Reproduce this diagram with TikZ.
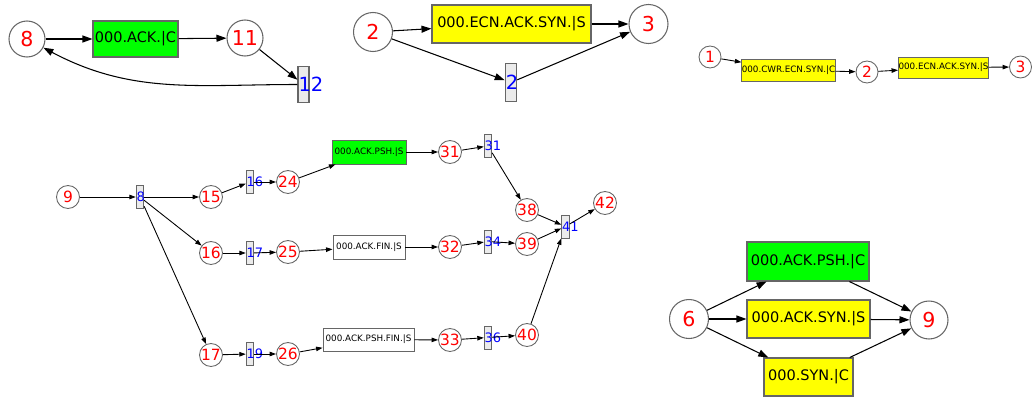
\documentclass[tikz,border=0pt]{standalone}
\usepackage{fontspec}
\setmainfont{DejaVu Sans}
\usetikzlibrary{arrows.meta, positioning}
\usepackage{xcolor}
\definecolor{pktGreen} {HTML}{00FF00}
\definecolor{pktYellow}{HTML}{FFFF00}
\definecolor{pktGray}  {HTML}{666666}
\definecolor{pktLight} {HTML}{EBEBEB}
\tikzset{
  bigst/.style  = {circle, draw=pktGray, line width=0.6pt, minimum size=0.72cm,
                   inner sep=0pt, text=red, font=\fontsize{11.7}{12}\selectfont},
  st/.style     = {circle, draw=pktGray, line width=0.5pt, minimum size=0.46cm,
                   inner sep=0pt, text=red, font=\fontsize{8.8}{9}\selectfont},
  bigpkt/.style = {rectangle, draw=pktGray, line width=0.6pt, inner sep=0pt,
                   font=\fontsize{8.25}{9}\selectfont},
  pkt/.style    = {rectangle, draw=pktGray, line width=0.5pt, inner sep=0pt,
                   font=\fontsize{5}{6}\selectfont},
  bigbar/.style = {rectangle, draw=pktGray, fill=pktLight, line width=0.6pt,
                   minimum width=0.22cm, minimum height=0.72cm, inner sep=0pt,
                   label={[anchor=west, inner sep=0.4pt, text=blue,
                           font=\fontsize{11.1}{12}\selectfont]west:#1}},
  bar/.style    = {rectangle, draw=pktGray, fill=pktLight, line width=0.5pt,
                   minimum width=0.15cm, minimum height=0.46cm, inner sep=0pt,
                   label={[anchor=west, inner sep=0.3pt, text=blue,
                           font=\fontsize{7.4}{8}\selectfont]west:#1}},
  bigarrow/.style = {-{Triangle[length=0.2cm, width=0.14cm]}, line width=0.6pt},
  arrow/.style    = {-{Triangle[length=0.13cm, width=0.09cm]}, line width=0.5pt},
}

\begin{document}
\begin{tikzpicture}[x=0.02cm, y=-0.02cm]
  \useasboundingbox (0,0) rectangle (1032,399);

  % ---- Top left: ACK loop ----
  \node[bigst] (tl8)  at (27,39)  {8};
  \node[bigpkt, fill=pktGreen, minimum width=1.70cm, minimum height=0.72cm]
        (tlack) at (135.5,39) {000.ACK.|C};
  \node[bigst] (tl11) at (245,38) {11};
  \node[bigbar=12] (tl12) at (303.5,84.5) {};

  \draw[bigarrow] (tl8) -- (tlack);
  \draw[bigarrow] (tlack) -- (tl11);
  \draw[bigarrow] (tl11) -- (tl12);
  \draw[bigarrow] (tl12.west) to[out=180, in=-28] (tl8);

  % ---- Top middle: ECN reply ----
  \node[bigst, minimum size=0.78cm] (tm2) at (373,32) {2};
  \node[bigpkt, fill=pktYellow, minimum width=3.18cm, minimum height=0.76cm]
        (tmecn) at (511.5,24) {000.ECN.ACK.SYN.|S};
  \node[bigst, minimum size=0.78cm] (tm3) at (648.5,24) {3};
  \node[bigbar=2, minimum width=0.23cm, minimum height=0.76cm] (tmb2) at (511,82.5) {};

  \draw[bigarrow] (tm2) -- (tmecn);
  \draw[bigarrow] (tmecn) -- (tm3);
  \draw[bigarrow] (tm2) -- (tmb2);
  \draw[bigarrow] (tmb2) -- (tm3);

  % ---- Top right: ECN handshake ----
  \node[st, minimum size=0.44cm] (tr1) at (710,57) {1};
  \node[pkt, fill=pktYellow, minimum width=1.82cm, minimum height=0.44cm]
        (trcwr) at (788.5,70) {000.CWR.ECN.SYN.|C};
  \node[st, minimum size=0.44cm] (tr2) at (867,72) {2};
  \node[pkt, fill=pktYellow, minimum width=1.78cm, minimum height=0.42cm]
        (trecn) at (943.5,67.5) {000.ECN.ACK.SYN.|S};
  \node[st, minimum size=0.44cm] (tr3) at (1020.5,67) {3};

  \draw[arrow] (tr1) -- (trcwr);
  \draw[arrow] (trcwr) -- (tr2);
  \draw[arrow] (tr2) -- (trecn);
  \draw[arrow] (trecn) -- (tr3);

  % ---- Middle: three branches ----
  \node[st] (m9)  at (68,197)  {9};
  \node[bar=8] (mb8) at (140,197) {};

  \node[st] (m15)  at (211,197) {15};
  \node[bar=16] (mb16) at (250,182) {};
  \node[st] (m24)  at (288,182) {24};
  \node[pkt, fill=pktGreen, minimum width=1.48cm, minimum height=0.48cm]
        (mpsh) at (369,152) {000.ACK.PSH.|S};
  \node[st] (m31)  at (450,152) {31};
  \node[bar=31] (mb31) at (488,146) {};
  \node[st] (m38)  at (527,210) {38};

  \node[st] (m16)  at (211,253) {16};
  \node[bar=17] (mb17) at (250,253) {};
  \node[st] (m25)  at (288,252) {25};
  \node[pkt, fill=white, minimum width=1.44cm, minimum height=0.48cm]
        (mfin) at (369,247) {000.ACK.FIN.|S};
  \node[st] (m32)  at (450,247) {32};
  \node[bar=34] (mb34) at (488,241.5) {};
  \node[st] (m39)  at (527,244) {39};

  \node[st] (m17)  at (211,355) {17};
  \node[bar=19] (mb19) at (250,354) {};
  \node[st] (m26)  at (288,354) {26};
  \node[pkt, fill=white, minimum width=1.82cm, minimum height=0.46cm]
        (mpshfin) at (368.5,339.5) {000.ACK.PSH.FIN.|S};
  \node[st] (m33)  at (450,340) {33};
  \node[bar=36] (mb36) at (488,337.5) {};
  \node[st] (m40)  at (527,335) {40};

  \node[bar=41] (mb41) at (565.5,226.5) {};
  \node[st] (m42)  at (605,203) {42};

  \draw[arrow] (m9) -- (mb8);
  \draw[arrow] (mb8) -- (m15);
  \draw[arrow] (mb8) -- (m16);
  \draw[arrow] (mb8) -- (m17);

  \draw[arrow] (m15) -- (mb16);
  \draw[arrow] (mb16) -- (m24);
  \draw[arrow] (m24) -- (mpsh);
  \draw[arrow] (mpsh) -- (m31);
  \draw[arrow] (m31) -- (mb31);
  \draw[arrow] (mb31) -- (m38);
  \draw[arrow] (m38) -- (mb41);

  \draw[arrow] (m16) -- (mb17);
  \draw[arrow] (mb17) -- (m25);
  \draw[arrow] (m25) -- (mfin);
  \draw[arrow] (mfin) -- (m32);
  \draw[arrow] (m32) -- (mb34);
  \draw[arrow] (mb34) -- (m39);
  \draw[arrow] (m39) -- (mb41);

  \draw[arrow] (m17) -- (mb19);
  \draw[arrow] (mb19) -- (m26);
  \draw[arrow] (m26) -- (mpshfin);
  \draw[arrow] (mpshfin) -- (m33);
  \draw[arrow] (m33) -- (mb36);
  \draw[arrow] (mb36) -- (m40);
  \draw[arrow] (m40) -- (mb41);

  \draw[arrow] (mb41) -- (m42);

  % ---- Bottom right: fan out / fan in ----
  \node[bigst, minimum size=0.78cm] (br6) at (689,319) {6};
  \node[bigpkt, fill=pktGreen, minimum width=2.44cm, minimum height=0.78cm]
        (brpsh) at (808,261.5) {000.ACK.PSH.|C};
  \node[bigpkt, fill=pktYellow, minimum width=2.46cm, minimum height=0.76cm]
        (brack) at (808.5,319) {000.ACK.SYN.|S};
  \node[bigpkt, fill=pktYellow, minimum width=1.78cm, minimum height=0.76cm]
        (brsyn) at (808.5,377) {000.SYN.|C};
  \node[bigst, minimum size=0.76cm] (br9) at (929,320) {9};

  \draw[bigarrow] (br6) -- (brpsh);
  \draw[bigarrow] (br6) -- (brack);
  \draw[bigarrow] (br6) -- (brsyn);
  \draw[bigarrow] (brpsh) -- (br9);
  \draw[bigarrow] (brack) -- (br9);
  \draw[bigarrow] (brsyn) -- (br9);

\end{tikzpicture}
\end{document}
